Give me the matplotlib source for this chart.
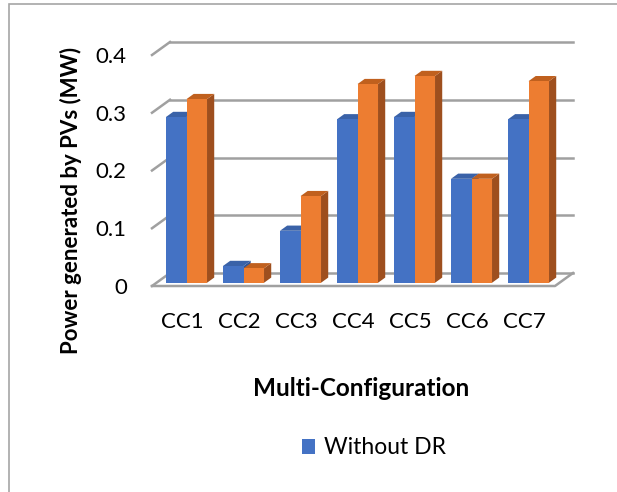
import numpy as np
import matplotlib
matplotlib.use("Agg")
import matplotlib.pyplot as plt
from matplotlib.patches import Polygon, Rectangle, Patch

categories = ["CC1", "CC2", "CC3", "CC4", "CC5", "CC6", "CC7"]
without_dr = [0.287, 0.029, 0.090, 0.283, 0.287, 0.180, 0.283]
with_dr = [0.318, 0.025, 0.150, 0.344, 0.358, 0.180, 0.349]
yticks = [0, 0.1, 0.2, 0.3, 0.4]
ytick_labels = ["0", "0.1", "0.2", "0.3", "0.4"]

plt.rcParams["font.family"] = ["Lato", "DejaVu Sans"]

W, H = 617, 492
fig = plt.figure(figsize=(W / 100, H / 100), dpi=100)

# chart border (runs off the right/bottom edge like the screenshot)
fig.patches.append(Rectangle((9 / W, -0.1), 2.0, (H - 4) / H + 0.1,
                             transform=fig.transFigure, fill=False,
                             edgecolor="#A6A6A6", lw=1.2))

# axes rect in pixels, category 0 at px 182, 57 px per category, 577.5 px per MW
px_l, px_r, px_b, px_t = 140, 600, 190, 470
x0_px, cat_px, y0_px, unit_px = 182, 57.0, 206, 577.5
ax = fig.add_axes([px_l / W, px_b / H, (px_r - px_l) / W, (px_t - px_b) / H])
ax.set_xlim((px_l - x0_px) / cat_px, (px_r - x0_px) / cat_px)
ax.set_ylim((px_b - y0_px) / unit_px, (px_t - y0_px) / unit_px)
for s in ax.spines.values():
    s.set_visible(False)

# 3d depth of the floor / back wall
dx = 18 / cat_px
dy = 13 / unit_px
left_front = (152 - x0_px) / cat_px
right_front = (555 - x0_px) / cat_px
grid_c = "#A0A0A0"

for v in yticks:
    ax.plot([left_front + dx, right_front + dx], [v + dy, v + dy], color=grid_c, lw=1.8, zorder=1)
    ax.plot([left_front, left_front + dx], [v, v + dy], color=grid_c, lw=1.8, zorder=1)
# floor outline
ax.plot([left_front, right_front, right_front + dx], [0, 0, dy], color=grid_c, lw=1.8, zorder=1)

# bars
w = 0.36
d0, d1 = 0.25, 0.65
sx, sy = d0 * dx, d0 * dy
ddx, ddy = (d1 - d0) * dx, (d1 - d0) * dy
x = np.arange(len(categories))

series = [
    (without_dr, -w / 2, "#4472C4", "#2F5597", "#3A62A8"),
    (with_dr, w / 2, "#ED7D31", "#9E4F1E", "#C0601E"),
]
z = 2
for vals, off, front_c, side_c, top_c in series:
    for xi, v in zip(x, vals):
        left = xi + off - w / 2 + sx
        right = left + w
        b, t = sy, sy + v
        ax.add_patch(Polygon([(right, b), (right, t), (right + ddx, t + ddy), (right + ddx, b + ddy)],
                             closed=True, facecolor=side_c, edgecolor="none", zorder=z))
        ax.add_patch(Polygon([(left, t), (right, t), (right + ddx, t + ddy), (left + ddx, t + ddy)],
                             closed=True, facecolor=top_c, edgecolor="none", zorder=z))
    ax.bar(x + off + sx, vals, width=w, bottom=sy, color=front_c, edgecolor="none", zorder=z + 1)
    z += 2

ax.set_yticks(yticks)
ax.set_yticklabels(ytick_labels)
ax.set_xticks(x)
ax.set_xticklabels(categories)
ax.tick_params(axis="both", length=0, labelsize=16, colors="#000000")
ax.tick_params(axis="y", pad=9.5)
ax.tick_params(axis="x", pad=7)

fig.text(71 / W, 1 - 200 / H, "Power generated by PVs (MW)", rotation=90,
         ha="center", va="center", fontsize=16, fontweight="bold")
fig.text(361 / W, 1 - 388 / H, "Multi-Configuration", ha="center", va="center",
         fontsize=17.5, fontweight="bold")

handles = [Patch(facecolor="#4472C4", label="Without DR")]
fig.legend(handles=handles, loc="center", bbox_to_anchor=(374 / W, 1 - 448 / H),
           frameon=False, fontsize=16.5, handlelength=0.6, handleheight=0.6,
           handletextpad=0.4)

fig.savefig("out.png", dpi=100)
